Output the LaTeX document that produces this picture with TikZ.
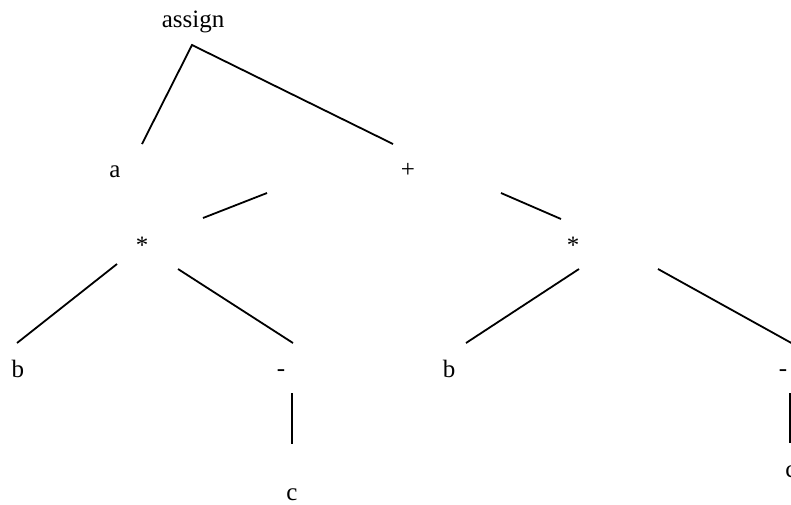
\documentclass[tikz,border=0pt]{standalone}
\usepackage{fontspec}
\setmainfont{Liberation Serif}
\begin{document}
\begin{tikzpicture}[x=1pt,y=-1pt,
  lbl/.style={anchor=base,inner sep=0pt,font=\fontsize{25}{30}\selectfont},
  edge/.style={line width=1.8pt}]
\clip (0,0) rectangle (791,504);
\fill[white] (0,0) rectangle (791,504);
% labels
\node[lbl] (assign) at (193,27) {assign};
\node[lbl] (a) at (115,177) {a};
\node[lbl] (plus) at (408,177) {+};
\node[lbl] (mulL) at (142,253) {*};
\node[lbl] (mulR) at (573,253) {*};
\node[lbl] (bL) at (18,377) {b};
\node[lbl] (minL) at (281,376) {-};
\node[lbl] (cL) at (292,500) {c};
\node[lbl] (bR) at (449,377) {b};
\node[lbl] (minR) at (783,376) {-};
\node[lbl] (cR) at (791,477) {c};
% connector end points
\coordinate (assign-s) at (192,45);
\coordinate (a-n) at (142,144);
\coordinate (plus-n) at (393,144);
\coordinate (plus-sw) at (267,193);
\coordinate (mulL-n) at (203,218);
\coordinate (plus-se) at (501,193);
\coordinate (mulR-n) at (561,219);
\coordinate (mulL-sw) at (117,264);
\coordinate (bL-n) at (17,343);
\coordinate (mulL-se) at (178,269);
\coordinate (minL-n) at (293,343);
\coordinate (minL-s) at (292,393);
\coordinate (cL-n) at (292,444);
\coordinate (mulR-sw) at (579,269);
\coordinate (bR-n) at (466,343);
\coordinate (mulR-se) at (658,269);
\coordinate (minR-n) at (795,345);
\coordinate (minR-s) at (790,393);
\coordinate (cR-n) at (790,443);
% connectors
\draw[edge,line join=miter] (a-n) -- (assign-s) -- (plus-n);
\draw[edge] (plus-sw) -- (mulL-n);
\draw[edge] (plus-se) -- (mulR-n);
\draw[edge] (mulL-sw) -- (bL-n);
\draw[edge] (mulL-se) -- (minL-n);
\draw[edge] (minL-s) -- (cL-n);
\draw[edge] (mulR-sw) -- (bR-n);
\draw[edge] (mulR-se) -- (minR-n);
\draw[edge] (minR-s) -- (cR-n);
\end{tikzpicture}
\end{document}
